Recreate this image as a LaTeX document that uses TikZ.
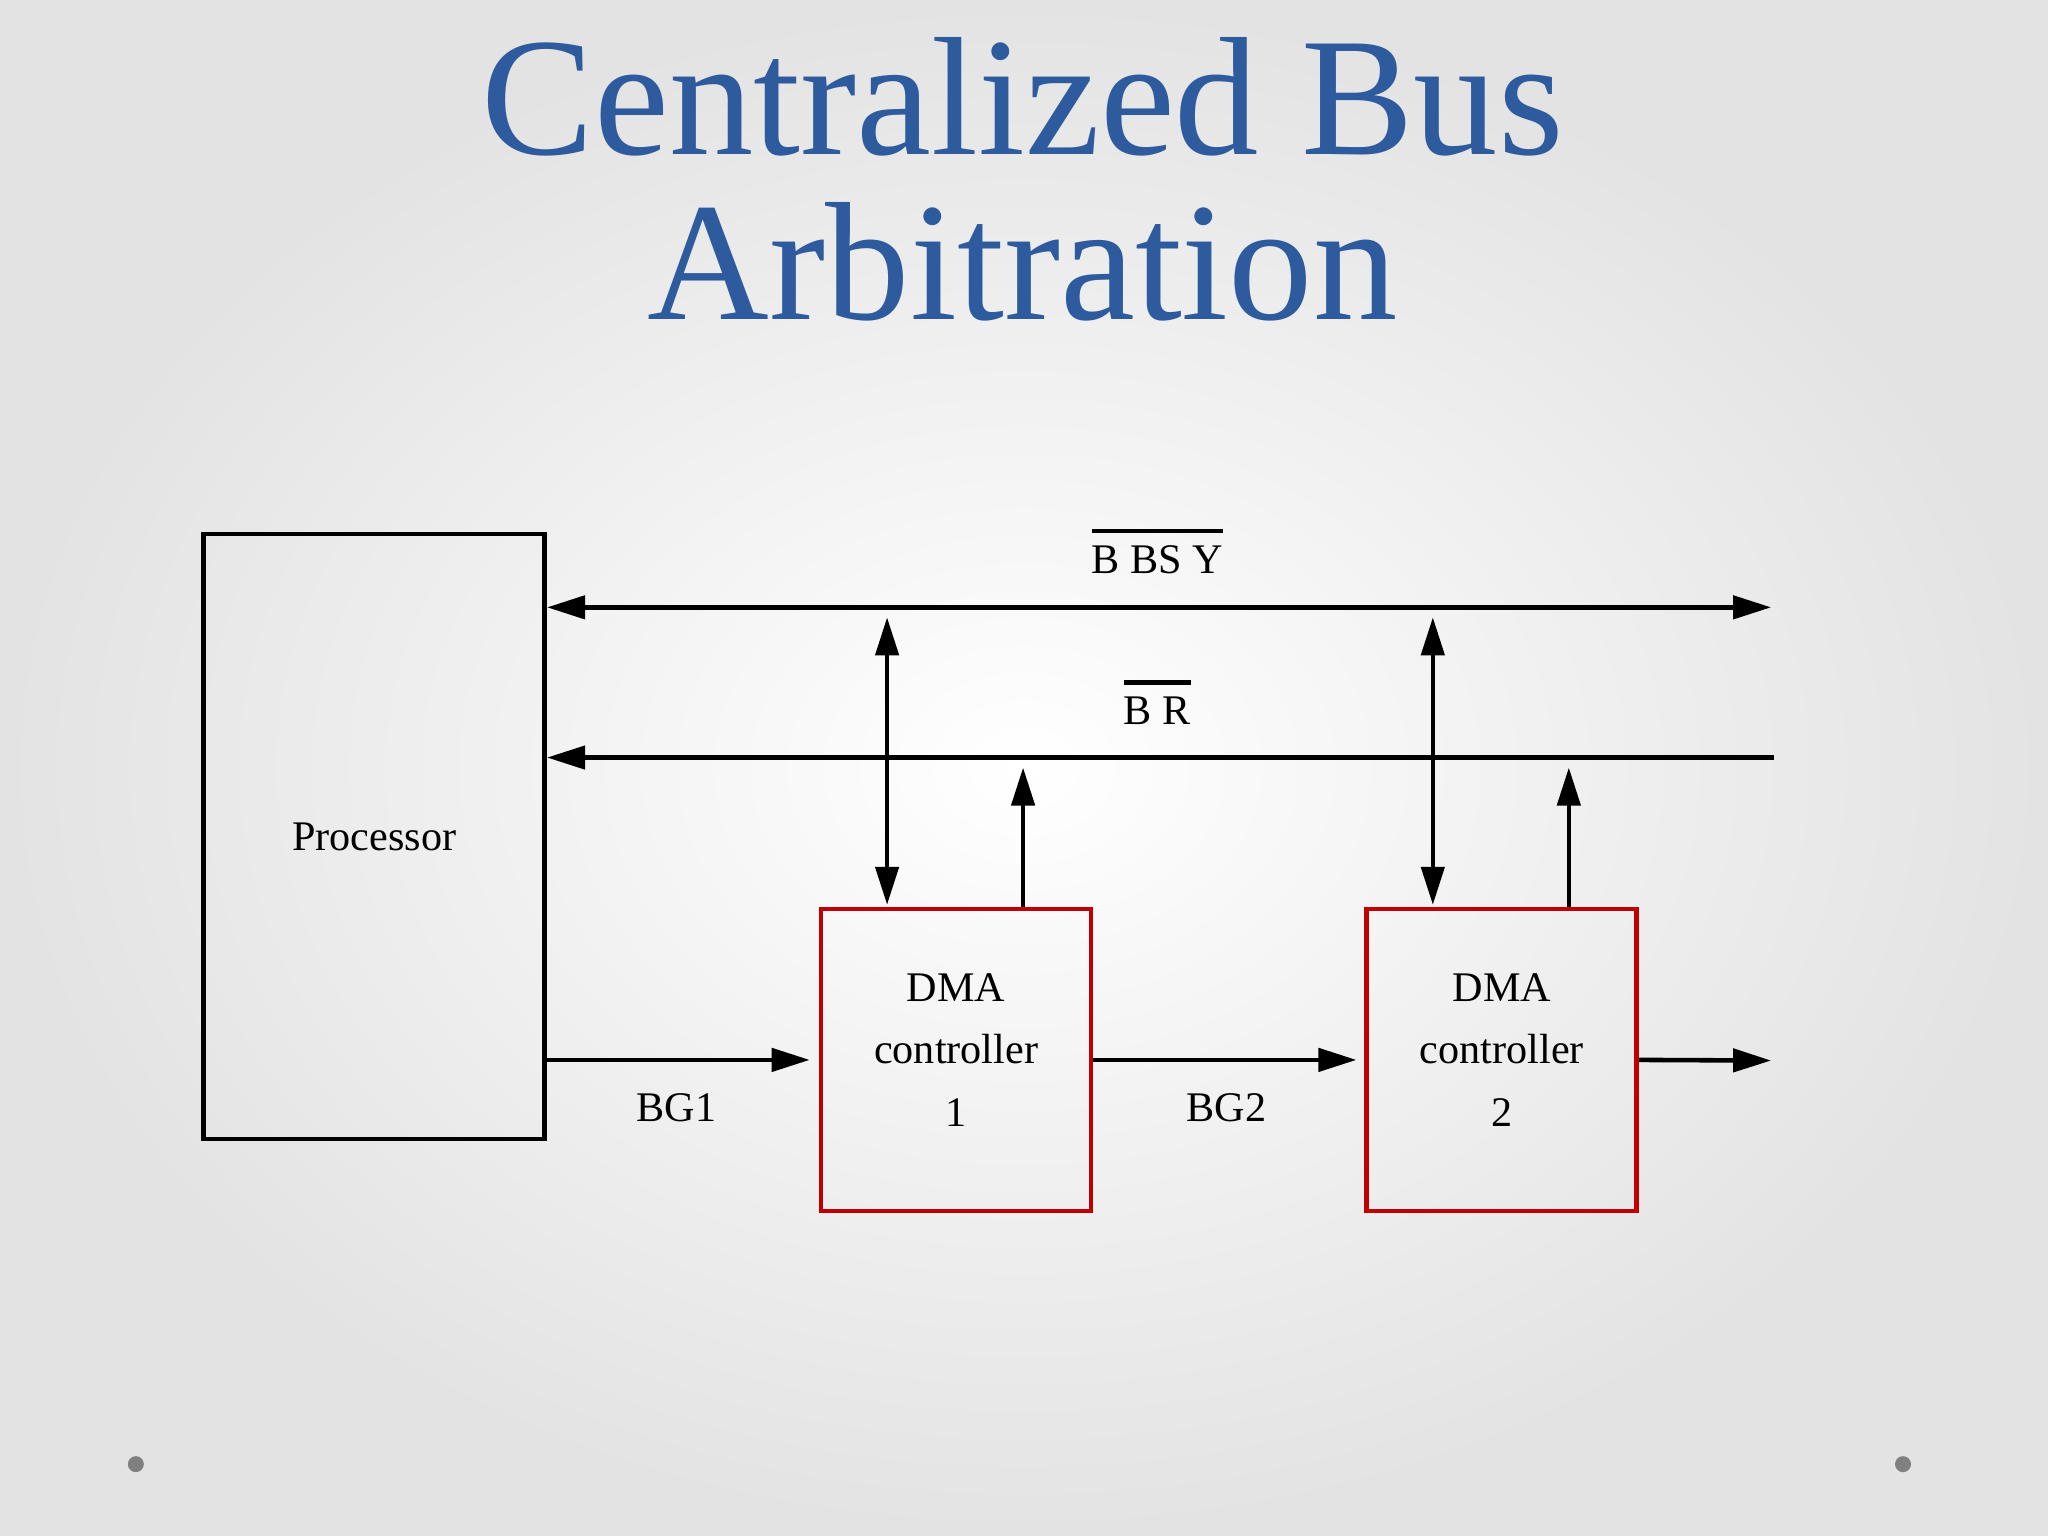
\documentclass[tikz,border=0pt]{standalone}
\usepackage{fontspec}
\setmainfont{Liberation Serif}
\usetikzlibrary{positioning,arrows.meta}
\definecolor{titleblue}{RGB}{46,91,158}
\definecolor{boxred}{RGB}{192,0,0}
\newcommand{\negsig}[1]{\leavevmode\vbox{\hrule height 1.4pt\kern 3.4pt\hbox{#1}}}

\begin{document}
\begin{tikzpicture}[x=0.013061cm, y=-0.013061cm,
  block/.style={draw, line width=1.35pt, minimum width=3.41cm, minimum height=6.05cm,
                inner sep=0pt, font=\fontsize{12}{14}\selectfont},
  dma/.style={draw=boxred, line width=1.35pt, minimum width=2.70cm, minimum height=3.02cm,
              align=center, inner sep=0pt, font=\fontsize{12}{17.8}\selectfont,
              execute at end node={\rule[-0.2cm]{0pt}{0pt}}},
  sig/.style={font=\fontsize{12}{14}\selectfont, inner sep=0pt},
  wire/.style={line width=1.3pt},
  tip/.style={-{Triangle[length=3.8mm,width=2.3mm]}},
  dtip/.style={{Triangle[length=3.8mm,width=2.3mm]}-{Triangle[length=3.8mm,width=2.3mm]}},
  ]
  % slide background
  \useasboundingbox (0,0) rectangle (1568,1176);
  \shade[inner color=white, outer color=black!11] (0,0) rectangle (1568,1176);

  \node[font=\fontsize{48}{47}\selectfont, text=titleblue, align=center, inner sep=0pt]
        (title) at (783,137) {Centralized Bus\\Arbitration};

  \node[block] (proc) at (286.5,640.5) {Processor};
  \node[dma] (dma1) at (732,811.5) {DMA\\controller\\1};
  \node[dma, right=2.71cm of dma1] (dma2) {DMA\\controller\\2};

  % bus lines
  \coordinate (bbsyR) at (1356,465);
  \coordinate (brR) at (1358,580);
  \coordinate (bgout) at (1356,812);
  \draw[wire, dtip] (proc.east |- bbsyR) -- (bbsyR);
  \draw[wire, tip] (brR) -- (proc.east |- brR);
  \node[sig] (bbsy) at (886,422) {\negsig{B BS Y}};
  \node[sig] (br) at (886,538) {\negsig{B R}};

  % controller taps
  \foreach \d in {dma1,dma2} {
    \coordinate (\d-l) at ([xshift=-0.69cm]\d.north);
    \coordinate (\d-r) at ([xshift=0.67cm]\d.north);
    \draw[wire, dtip, shorten <=0.1cm, shorten >=0.5pt] (\d-l |- bbsyR) -- (\d-l);
    \draw[wire, tip, shorten >=0.1cm] (\d-r) -- (\d-r |- brR);
  }

  % grant chain
  \draw[wire, tip, shorten >=0.09cm] (proc.east |- dma1.west) -- (dma1.west);
  \draw[wire, tip, shorten >=0.08cm] (dma1.east) -- (dma2.west);
  \draw[wire, tip] (dma2.east) -- (bgout);
  \node[sig] (bg1) at (518,848) {BG1};
  \node[sig] (bg2) at (939,848) {BG2};

  \fill[black!50] (104,1121) circle (0.08cm);
  \fill[black!50] (1457,1121) circle (0.08cm);
\end{tikzpicture}
\end{document}
